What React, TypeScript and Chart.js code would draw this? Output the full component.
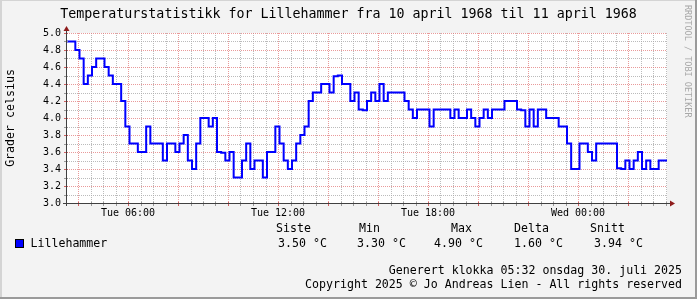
import React, { useEffect, useRef } from "react";
import { Chart, registerables } from "chart.js";

Chart.register(...registerables);

// ---------- data ----------
const chartTitle = "Temperaturstatistikk for Lillehammer fra 10 april 1968 til 11 april 1968";
const yAxisTitle = "Grader celsius";
const seriesName = "Lillehammer";
const watermark = "RRDTOOL / TOBI OETIKER";

// hours since Tuesday 00:00, one reading every 10 minutes
const startHour = 3.56;
const stepHours = 1 / 6;
const temps = [
  4.9, 4.9, 4.8, 4.7, 4.4, 4.5, 4.6, 4.7, 4.7, 4.6, 4.5, 4.4, 4.4, 4.2, 3.9, 3.7,
  3.7, 3.6, 3.6, 3.9, 3.7, 3.7, 3.7, 3.5, 3.7, 3.7, 3.6, 3.7, 3.8, 3.5, 3.4, 3.7,
  4.0, 4.0, 3.9, 4.0, 3.6, 3.59, 3.5, 3.6, 3.3, 3.3, 3.5, 3.7, 3.4, 3.5, 3.5, 3.3,
  3.6, 3.6, 3.9, 3.7, 3.5, 3.4, 3.5, 3.7, 3.8, 3.9, 4.2, 4.3, 4.3, 4.4, 4.4, 4.3,
  4.49, 4.5, 4.4, 4.4, 4.2, 4.3, 4.1, 4.09, 4.2, 4.3, 4.2, 4.4, 4.2, 4.3, 4.3, 4.3,
  4.3, 4.2, 4.1, 4.0, 4.1, 4.1, 4.1, 3.9, 4.1, 4.1, 4.1, 4.1, 4.0, 4.1, 4.0, 4.0,
  4.1, 4.0, 3.9, 4.0, 4.1, 4.0, 4.1, 4.1, 4.1, 4.2, 4.2, 4.2, 4.1, 4.09, 3.9, 4.1,
  3.9, 4.1, 4.1, 4.0, 4.0, 4.0, 3.9, 3.9, 3.7, 3.4, 3.4, 3.7, 3.7, 3.6, 3.5, 3.7,
  3.7, 3.7, 3.7, 3.7, 3.41, 3.4, 3.5, 3.4, 3.5, 3.6, 3.4, 3.5, 3.4, 3.4, 3.5, 3.5,
];

const yMin = 3.0;
const yMax = 5.0;
const yLabelValues = [3.0, 3.2, 3.4, 3.6, 3.8, 4.0, 4.2, 4.4, 4.6, 4.8, 5.0];
const xTickHours = [6, 12, 18, 24];
const xTickLabels = ["Tue 06:00", "Tue 12:00", "Tue 18:00", "Wed 00:00"];

const statHeaders = ["Siste", "Min", "Max", "Delta", "Snitt"];
const statValues = ["3.50 °C", "3.30 °C", "4.90 °C", "1.60 °C", "3.94 °C"];
const footerLines = [
  "Generert klokka 05:32 onsdag 30. juli 2025",
  "Copyright 2025 © Jo Andreas Lien - All rights reserved",
];

// ---------- layout / style ----------
const W = 697;
const H = 299;
const MONO = '"DejaVu Sans Mono", monospace';
const statHeaderX = [276, 359, 451, 514, 590];
const statValueX = [278, 357, 434, 514, 594];

const px = (v: number) => Math.round(v) + 0.5;

const rrdPlugin = {
  id: "rrd",
  beforeDraw(chart: any) {
    const { ctx, chartArea: a } = chart;
    const xs = chart.scales.x;
    const ys = chart.scales.y;
    ctx.save();
    ctx.fillStyle = "#F3F3F3";
    ctx.fillRect(0, 0, W, H);
    ctx.fillStyle = "#D4D4D4";
    ctx.fillRect(0, 0, W, 1);
    ctx.fillRect(0, 0, 2, H);
    ctx.fillStyle = "#9A9A9A";
    ctx.fillRect(0, H - 2, W, 2);
    ctx.fillRect(W - 2, 0, 2, H);
    ctx.fillStyle = "#FFFFFF";
    ctx.fillRect(a.left, a.top, a.right - a.left, a.bottom - a.top);

    ctx.lineWidth = 1;
    ctx.setLineDash([1, 1]);
    // minor grid
    ctx.strokeStyle = "rgba(170,170,170,0.8)";
    ctx.beginPath();
    for (let h = Math.ceil(xs.min * 2) / 2; h <= xs.max; h += 0.5) {
      if (Math.abs(h / 2 - Math.round(h / 2)) < 1e-6) continue;
      const x = px(xs.getPixelForValue(h));
      ctx.moveTo(x, a.top);
      ctx.lineTo(x, a.bottom);
    }
    for (let i = 1; i < 20; i++) {
      if (i % 2 === 0) continue;
      const y = px(ys.getPixelForValue(yMin + i * 0.1));
      ctx.moveTo(a.left, y);
      ctx.lineTo(a.right, y);
    }
    ctx.stroke();
    // major grid
    ctx.strokeStyle = "rgba(225,120,120,0.75)";
    ctx.beginPath();
    for (let h = Math.ceil(xs.min / 2) * 2; h <= xs.max; h += 2) {
      const x = px(xs.getPixelForValue(h));
      ctx.moveTo(x, a.top);
      ctx.lineTo(x, a.bottom);
    }
    for (let i = 1; i <= 10; i++) {
      const y = px(ys.getPixelForValue(yMin + i * 0.2));
      ctx.moveTo(a.left, y);
      ctx.lineTo(a.right, y);
    }
    ctx.stroke();
    ctx.restore();
  },
  afterDatasetsDraw(chart: any) {
    const { ctx, chartArea: a } = chart;
    const xs = chart.scales.x;
    const ys = chart.scales.y;
    ctx.save();
    ctx.setLineDash([]);
    ctx.lineWidth = 1;
    // tick marks
    for (let h = Math.ceil(xs.min * 2) / 2; h <= xs.max; h += 0.5) {
      const major = Math.abs(h / 2 - Math.round(h / 2)) < 1e-6;
      ctx.strokeStyle = major ? "#D06060" : "#999999";
      const x = px(xs.getPixelForValue(h));
      ctx.beginPath();
      ctx.moveTo(x, a.bottom - 1);
      ctx.lineTo(x, a.bottom + 3);
      ctx.stroke();
    }
    for (let i = 1; i <= 20; i++) {
      ctx.strokeStyle = i % 2 === 0 ? "#D06060" : "#999999";
      const y = px(ys.getPixelForValue(yMin + i * 0.1));
      ctx.beginPath();
      ctx.moveTo(a.left - 3, y);
      ctx.lineTo(a.left + 1, y);
      ctx.stroke();
    }
    // axes
    ctx.strokeStyle = "#404040";
    ctx.beginPath();
    const by = px(a.bottom);
    const lx = px(a.left - 1);
    ctx.moveTo(a.left - 4, by);
    ctx.lineTo(a.right + 3, by);
    ctx.moveTo(lx, a.bottom + 3);
    ctx.lineTo(lx, a.top - 3);
    ctx.stroke();
    // arrows
    ctx.fillStyle = "#8E1B1B";
    ctx.beginPath();
    ctx.moveTo(lx, a.top - 7);
    ctx.lineTo(lx - 3, a.top - 2);
    ctx.lineTo(lx + 3, a.top - 2);
    ctx.closePath();
    ctx.fill();
    ctx.beginPath();
    ctx.moveTo(a.right + 8, by);
    ctx.lineTo(a.right + 3, by - 3);
    ctx.lineTo(a.right + 3, by + 3);
    ctx.closePath();
    ctx.fill();

    // text
    ctx.fillStyle = "#000000";
    ctx.font = `13.3px ${MONO}`;
    ctx.textAlign = "center";
    ctx.textBaseline = "alphabetic";
    ctx.fillText(chartTitle, W / 2, 18);

    ctx.font = `10px ${MONO}`;
    ctx.textAlign = "right";
    ctx.textBaseline = "middle";
    yLabelValues.forEach((v) => {
      ctx.fillText(v.toFixed(1), a.left - 6, ys.getPixelForValue(v) + 0.5);
    });
    ctx.textAlign = "center";
    xTickHours.forEach((h, i) => {
      ctx.fillText(xTickLabels[i], xs.getPixelForValue(h), a.bottom + 10);
    });

    ctx.font = `11.6px ${MONO}`;
    ctx.save();
    ctx.translate(11, 118);
    ctx.rotate(-Math.PI / 2);
    ctx.textAlign = "center";
    ctx.textBaseline = "middle";
    ctx.fillText(yAxisTitle, 0, 0);
    ctx.restore();

    // legend
    ctx.fillStyle = "#0000FF";
    ctx.fillRect(15.5, 239.5, 8, 8);
    ctx.strokeStyle = "#000000";
    ctx.strokeRect(15.5, 239.5, 8, 8);
    ctx.fillStyle = "#000000";
    ctx.textAlign = "left";
    ctx.textBaseline = "middle";
    ctx.fillText(seriesName, 30.5, 243.5);
    statHeaders.forEach((t, i) => ctx.fillText(t, statHeaderX[i], 229));
    statValues.forEach((t, i) => ctx.fillText(t, statValueX[i], 243.5));

    ctx.textAlign = "right";
    ctx.fillText(footerLines[0], 682, 271);
    ctx.fillText(footerLines[1], 682, 285);

    // watermark
    ctx.save();
    ctx.font = `8.5px ${MONO}`;
    ctx.fillStyle = "#A8A8A8";
    ctx.translate(687, 5);
    ctx.rotate(Math.PI / 2);
    ctx.textAlign = "left";
    ctx.textBaseline = "middle";
    ctx.fillText(watermark, 0, 0);
    ctx.restore();

    ctx.restore();
  },
};

export default function App() {
  const ref = useRef<HTMLCanvasElement | null>(null);
  useEffect(() => {
    document.body.style.margin = "0";
    const canvas = ref.current;
    if (!canvas) return;
    const points = temps.map((v, k) => ({ x: startHour + k * stepHours, y: v }));
    points.push({ x: startHour + temps.length * stepHours, y: temps[temps.length - 1] });
    const chart = new Chart(canvas, {
      type: "line",
      data: {
        datasets: [
          {
            label: seriesName,
            data: points,
            stepped: true,
            borderColor: "#0000FF",
            borderWidth: 2,
            pointRadius: 0,
            fill: false,
            tension: 0,
          },
        ],
      },
      options: {
        responsive: false,
        animation: false,
        devicePixelRatio: 1,
        events: [],
        layout: { padding: { left: 67, top: 33, right: 30, bottom: 96 } },
        plugins: {
          legend: { display: false },
          tooltip: { enabled: false },
          title: { display: false },
        },
        scales: {
          x: { type: "linear", min: startHour, max: startHour + 24, display: false },
          y: { type: "linear", min: yMin, max: yMax, display: false },
        },
      },
      plugins: [rrdPlugin],
    } as any);
    return () => chart.destroy();
  }, []);
  return (
    <div style={{ width: W, height: H }}>
      <canvas ref={ref} width={W} height={H} style={{ display: "block" }} />
    </div>
  );
}
